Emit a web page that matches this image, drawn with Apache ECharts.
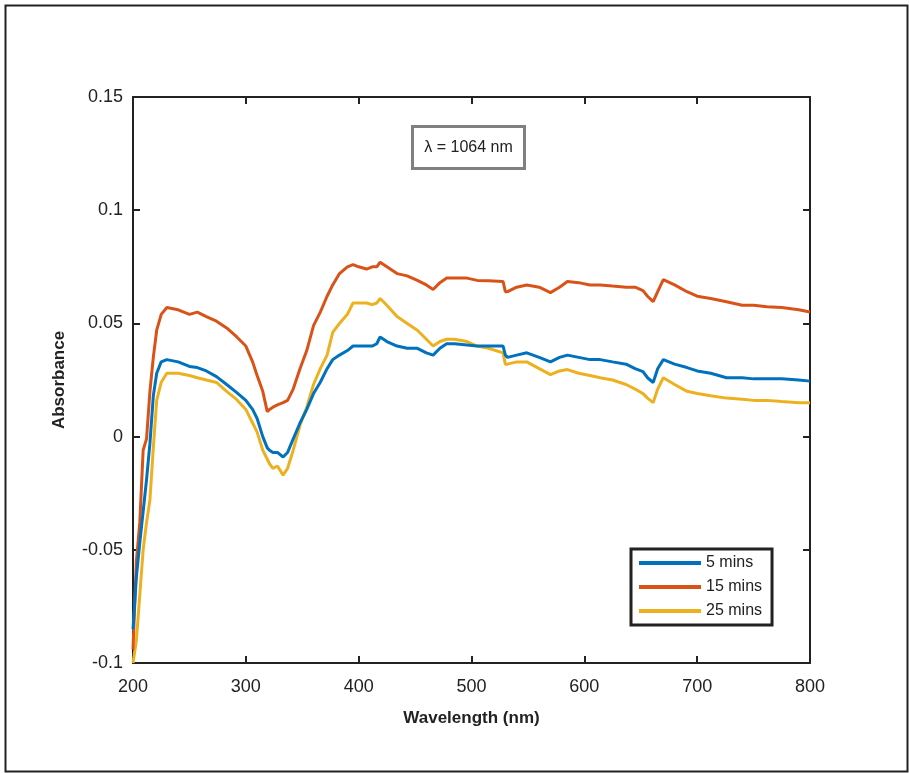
<!DOCTYPE html>
<html><head><meta charset="utf-8">
<script src="https://cdn.jsdelivr.net/npm/echarts@6/dist/echarts.min.js"></script>
<style>html,body{margin:0;padding:0;background:#fff}#c{width:909px;height:773px}</style>
</head><body><div id="c"></div>
<script>
const wavelengths = [200,203,206,209,212,215,218,221,225,230,240,250,257,265,274,283,292,300,306,310,315,319,321,324,328,333,337,342,348,354,360,366,372,377,383,390,395,400,407,412,416,419,425,434,443,452,460,466,472,478,485,496,505,515,528,530,532,540,549,560,570,578,585,595,605,614,625,637,645,652,656,661,665,670,680,691,700,712,726,740,750,762,775,790,800];
const mins5 = [-0.085,-0.062,-0.047,-0.033,-0.019,-0.003,0.018,0.028,0.033,0.034,0.033,0.031,0.0305,0.029,0.0265,0.023,0.0194,0.016,0.012,0.008,0.000,-0.005,-0.006,-0.007,-0.007,-0.009,-0.007,-0.001,0.006,0.012,0.019,0.024,0.030,0.034,0.036,0.038,0.040,0.040,0.040,0.040,0.041,0.044,0.042,0.040,0.039,0.039,0.037,0.036,0.039,0.041,0.041,0.0405,0.040,0.040,0.040,0.036,0.035,0.036,0.037,0.035,0.033,0.035,0.036,0.035,0.034,0.034,0.033,0.032,0.030,0.0287,0.026,0.0239,0.030,0.034,0.032,0.0305,0.029,0.028,0.026,0.026,0.0255,0.0255,0.0255,0.025,0.0245];
const mins15 = [-0.094,-0.055,-0.038,-0.006,-0.001,0.020,0.035,0.047,0.054,0.057,0.056,0.054,0.055,0.053,0.051,0.048,0.044,0.040,0.033,0.027,0.020,0.011,0.012,0.013,0.014,0.015,0.016,0.021,0.030,0.038,0.049,0.055,0.062,0.067,0.072,0.075,0.076,0.075,0.074,0.075,0.075,0.077,0.075,0.072,0.071,0.069,0.067,0.065,0.068,0.070,0.070,0.070,0.069,0.0688,0.0685,0.064,0.064,0.066,0.067,0.066,0.0636,0.066,0.0685,0.068,0.067,0.067,0.0665,0.066,0.066,0.0645,0.062,0.0596,0.064,0.0693,0.067,0.064,0.062,0.061,0.0596,0.058,0.058,0.0574,0.057,0.056,0.055];
const mins25 = [-0.100,-0.090,-0.070,-0.050,-0.038,-0.028,-0.005,0.016,0.024,0.028,0.028,0.027,0.026,0.025,0.0239,0.020,0.0163,0.012,0.006,0.002,-0.006,-0.010,-0.012,-0.014,-0.013,-0.017,-0.014,-0.006,0.005,0.013,0.023,0.030,0.036,0.046,0.050,0.054,0.059,0.059,0.059,0.0583,0.059,0.061,0.058,0.053,0.050,0.047,0.043,0.040,0.042,0.043,0.043,0.042,0.040,0.039,0.037,0.032,0.032,0.033,0.033,0.030,0.0274,0.029,0.0296,0.028,0.027,0.026,0.025,0.023,0.021,0.019,0.017,0.015,0.021,0.026,0.023,0.020,0.019,0.018,0.017,0.0165,0.016,0.016,0.0155,0.015,0.015];
const seriesNames = ['5 mins','15 mins','25 mins'];
const colors = ['#0072BD','#D95319','#EDB120'];
const annotation = 'λ = 1064 nm';

const font = 'Liberation Sans, Arial, sans-serif';
const pair = (arr) => wavelengths.map((w,i)=>[w,arr[i]]);
const chart = echarts.init(document.getElementById('c'), null, {renderer:'canvas'});
const axisCommon = {
  axisLine:{show:true,onZero:false,lineStyle:{color:'#222',width:2}},
  axisTick:{show:true,inside:true,length:7,lineStyle:{color:'#222',width:2}},
  splitLine:{show:false}
};
chart.setOption({
  animation:false,
  backgroundColor:'#fff',
  grid:{left:133,top:97,right:99,bottom:110,containLabel:false},
  xAxis:[
    Object.assign({type:'value',min:200,max:800,interval:100,position:'bottom',
      name:'Wavelength (nm)',nameLocation:'middle',nameGap:47,
      nameTextStyle:{fontFamily:font,fontSize:17,fontWeight:'bold',color:'#222'},
      axisLabel:{fontFamily:font,fontSize:18,color:'#222',margin:15}},axisCommon),
    Object.assign({type:'value',min:200,max:800,interval:100,position:'top',axisLabel:{show:false}},axisCommon)
  ],
  yAxis:[
    Object.assign({type:'value',min:-0.1,max:0.15,interval:0.05,position:'left',
      name:'Absorbance',nameLocation:'middle',nameGap:65,nameRotate:90,
      nameTextStyle:{fontFamily:font,fontSize:17,fontWeight:'bold',color:'#222'},
      axisLabel:{fontFamily:font,fontSize:18,color:'#222',margin:10}},axisCommon),
    Object.assign({type:'value',min:-0.1,max:0.15,interval:0.05,position:'right',axisLabel:{show:false}},axisCommon)
  ],
  legend:{
    show:true, orient:'vertical', left:631, top:549,
    data:seriesNames, icon:'rect', itemWidth:62, itemHeight:4, itemGap:8,
    padding:[6,10,6,8], borderColor:'#222', borderWidth:3, backgroundColor:'#fff',
    textStyle:{fontFamily:font,fontSize:16,color:'#222'}
  },
  series:[mins5,mins15,mins25].map((arr,i)=>({
    name:seriesNames[i], type:'line', data:pair(arr), showSymbol:false, symbol:'none',
    color:colors[i], lineStyle:{color:colors[i],width:3}, clip:true, z:10-i
  })),
  graphic:[
    {type:'rect',left:3,top:3,shape:{width:902,height:766},style:{fill:'none',stroke:'#222',lineWidth:2},silent:true},
    {type:'group',left:411,top:125,children:[
      {type:'rect',shape:{x:0,y:0,width:112,height:42},style:{fill:'#fff',stroke:'#808080',lineWidth:3}},
      {type:'text',x:56,y:21,style:{text:annotation,fontFamily:font,fontSize:16,fill:'#222',align:'center',verticalAlign:'middle'}}
    ]}
  ]
});
</script></body></html>
